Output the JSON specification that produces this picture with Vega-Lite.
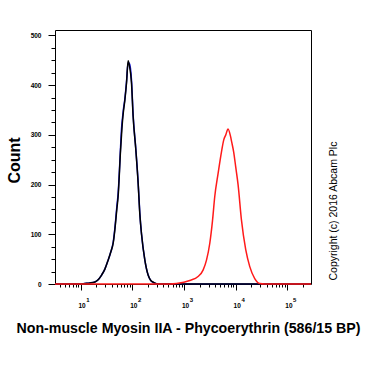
{
  "$schema": "https://vega.github.io/schema/vega-lite/v6.json",
  "width": 256,
  "height": 254,
  "autosize": "none",
  "padding": {"left": 55, "top": 30, "right": 59, "bottom": 86},
  "background": "white",
  "config": {
    "view": {"stroke": "black", "strokeWidth": 1},
    "font": "Liberation Sans",
    "axis": {"tickColor": "black", "tickWidth": 1, "labelColor": "black", "titleColor": "black", "domain": false, "grid": false}
  },
  "data": {
    "values": [
      {"s": "blue", "x": 3.2, "c": 0}, {"s": "blue", "x": 9.77, "c": 0}, {"s": "blue", "x": 12.1, "c": 1}, {"s": "blue", "x": 15.1, "c": 2}, {"s": "blue", "x": 18.9, "c": 4}, {"s": "blue", "x": 21.6, "c": 8}, {"s": "blue", "x": 25.5, "c": 18}, {"s": "blue", "x": 29.5, "c": 30}, {"s": "blue", "x": 34.1, "c": 48}, {"s": "blue", "x": 38.5, "c": 65}, {"s": "blue", "x": 42.7, "c": 84}, {"s": "blue", "x": 46.0, "c": 112}, {"s": "blue", "x": 50.2, "c": 155}, {"s": "blue", "x": 53.2, "c": 182}, {"s": "blue", "x": 59.3, "c": 275}, {"s": "blue", "x": 61.9, "c": 312}, {"s": "blue", "x": 64.9, "c": 336}, {"s": "blue", "x": 67.1, "c": 350}, {"s": "blue", "x": 71.8, "c": 372}, {"s": "blue", "x": 77.4, "c": 408}, {"s": "blue", "x": 83.0, "c": 445}, {"s": "blue", "x": 87.7, "c": 444}, {"s": "blue", "x": 96.6, "c": 410}, {"s": "blue", "x": 103.8, "c": 340}, {"s": "blue", "x": 117.0, "c": 272}, {"s": "blue", "x": 129.7, "c": 205}, {"s": "blue", "x": 140.0, "c": 142}, {"s": "blue", "x": 151.0, "c": 100}, {"s": "blue", "x": 175.0, "c": 48}, {"s": "blue", "x": 202.3, "c": 18}, {"s": "blue", "x": 228.0, "c": 7}, {"s": "blue", "x": 252.9, "c": 3}, {"s": "blue", "x": 316, "c": 0}, {"s": "blue", "x": 286000, "c": 0},
      {"s": "black", "x": 3.2, "c": 0}, {"s": "black", "x": 9.77, "c": 0}, {"s": "black", "x": 12.1, "c": 1}, {"s": "black", "x": 15.1, "c": 2}, {"s": "black", "x": 18.9, "c": 4}, {"s": "black", "x": 21.6, "c": 8}, {"s": "black", "x": 25.5, "c": 18}, {"s": "black", "x": 29.5, "c": 30}, {"s": "black", "x": 34.1, "c": 48}, {"s": "black", "x": 38.5, "c": 65}, {"s": "black", "x": 42.7, "c": 82}, {"s": "black", "x": 46.0, "c": 109}, {"s": "black", "x": 50.2, "c": 150}, {"s": "black", "x": 53.2, "c": 176}, {"s": "black", "x": 59.3, "c": 269}, {"s": "black", "x": 61.9, "c": 300}, {"s": "black", "x": 64.9, "c": 330}, {"s": "black", "x": 67.1, "c": 345}, {"s": "black", "x": 71.8, "c": 370}, {"s": "black", "x": 77.4, "c": 405}, {"s": "black", "x": 83.0, "c": 449}, {"s": "black", "x": 87.7, "c": 440}, {"s": "black", "x": 96.6, "c": 404}, {"s": "black", "x": 103.8, "c": 337}, {"s": "black", "x": 117.0, "c": 270}, {"s": "black", "x": 129.7, "c": 203}, {"s": "black", "x": 140.0, "c": 140}, {"s": "black", "x": 151.0, "c": 100}, {"s": "black", "x": 175.0, "c": 48}, {"s": "black", "x": 202.3, "c": 18}, {"s": "black", "x": 228.0, "c": 7}, {"s": "black", "x": 252.9, "c": 4}, {"s": "black", "x": 316, "c": 0}, {"s": "black", "x": 286000, "c": 0},
      {"s": "red", "x": 3.2, "c": 0}, {"s": "red", "x": 532, "c": 0}, {"s": "red", "x": 716, "c": 1}, {"s": "red", "x": 1294, "c": 7}, {"s": "red", "x": 1871, "c": 15}, {"s": "red", "x": 2339, "c": 28}, {"s": "red", "x": 2723, "c": 48}, {"s": "red", "x": 3155, "c": 82}, {"s": "red", "x": 3556, "c": 127}, {"s": "red", "x": 3936, "c": 176}, {"s": "red", "x": 4560, "c": 222}, {"s": "red", "x": 5309, "c": 266}, {"s": "red", "x": 5875, "c": 290}, {"s": "red", "x": 6427, "c": 300}, {"s": "red", "x": 7112, "c": 312}, {"s": "red", "x": 7907, "c": 298}, {"s": "red", "x": 8395, "c": 285}, {"s": "red", "x": 9162, "c": 265}, {"s": "red", "x": 10023, "c": 235}, {"s": "red", "x": 11117, "c": 200}, {"s": "red", "x": 12912, "c": 129}, {"s": "red", "x": 15631, "c": 69}, {"s": "red", "x": 18707, "c": 35}, {"s": "red", "x": 23335, "c": 11}, {"s": "red", "x": 29174, "c": 1}, {"s": "red", "x": 36392, "c": 0}, {"s": "red", "x": 286000, "c": 0}
    ]
  },
  "layer": [
    {
      "transform": [{"filter": "datum.s === 'blue'"}],
      "mark": {"type": "line", "color": "#1414e6", "strokeWidth": 1.5, "interpolate": "monotone"},
      "encoding": {
        "x": {
          "field": "x", "type": "quantitative",
          "scale": {"type": "log", "domain": [3.2, 286000]},
          "axis": {
            "orient": "bottom",
            "values": [10, 100, 1000, 10000, 100000],
            "tickSize": 6,
            "labelExpr": "'10'",
            "labelFontSize": 6.5, "labelFontWeight": "bold", "labelPadding": 12, "labelAlign": "center", "labelOffset": 1,
            "title": "Non-muscle Myosin IIA - Phycoerythrin (586/15 BP)",
            "titleFontSize": 14.2, "titleFontWeight": "bold",
            "titleX": 133, "titleY": 44, "titleAlign": "center", "titleBaseline": "middle"
          }
        },
        "y": {
          "field": "c", "type": "quantitative",
          "scale": {"domain": [0, 511], "nice": false},
          "axis": {
            "orient": "left",
            "values": [0, 100, 200, 300, 400, 500],
            "tickSize": 7,
            "labelFontSize": 6.5, "labelFontWeight": "bold", "labelPadding": 7,
            "title": "Count", "titleFontSize": 16, "titleFontWeight": "bold",
            "titleAngle": 270, "titleX": -41, "titleY": 130, "titleAlign": "center", "titleBaseline": "middle"
          }
        }
      }
    },
    {
      "transform": [{"filter": "datum.s === 'black'"}],
      "mark": {"type": "line", "color": "#000000", "strokeWidth": 1.5, "interpolate": "monotone"},
      "encoding": {
        "x": {
          "field": "x", "type": "quantitative",
          "scale": {"type": "log", "domain": [3.2, 286000]},
          "axis": {
            "orient": "bottom",
            "values": [4, 5, 6, 7, 8, 9, 20, 30, 40, 50, 60, 70, 80, 90, 200, 300, 400, 500, 600, 700, 800, 900, 2000, 3000, 4000, 5000, 6000, 7000, 8000, 9000, 20000, 30000, 40000, 50000, 60000, 70000, 80000, 90000, 200000],
            "tickSize": 3, "labels": false, "title": null
          }
        },
        "y": {
          "field": "c", "type": "quantitative",
          "scale": {"domain": [0, 511], "nice": false},
          "axis": {
            "orient": "left",
            "values": [25, 50, 75, 125, 150, 175, 225, 250, 275, 325, 350, 375, 425, 450, 475],
            "tickSize": 4, "labels": false, "title": null
          }
        }
      }
    },
    {
      "transform": [{"filter": "datum.s === 'red'"}],
      "mark": {"type": "line", "color": "#ff1a1a", "strokeWidth": 1.5, "interpolate": "monotone"},
      "encoding": {
        "x": {
          "field": "x", "type": "quantitative",
          "scale": {"type": "log", "domain": [3.2, 286000]},
          "axis": {
            "orient": "bottom",
            "values": [10, 100, 1000, 10000, 100000],
            "ticks": false, "tickSize": 0,
            "labelExpr": "'' + round(log(datum.value)/LN10)",
            "labelFontSize": 6, "labelFontWeight": "bold", "labelPadding": 12.5, "labelAlign": "left", "labelOffset": 5.2,
            "title": null
          }
        },
        "y": {
          "field": "c", "type": "quantitative",
          "scale": {"domain": [0, 511], "nice": false},
          "axis": {
            "orient": "right", "ticks": false, "labels": false,
            "title": "Copyright (c) 2016 Abcam Plc",
            "titleFontSize": 10.5, "titleFontWeight": "normal",
            "titleAngle": 270, "titleX": 22, "titleY": 250, "titleAlign": "left", "titleBaseline": "middle"
          }
        }
      }
    }
  ],
  "resolve": {"axis": {"x": "independent", "y": "independent"}}
}
